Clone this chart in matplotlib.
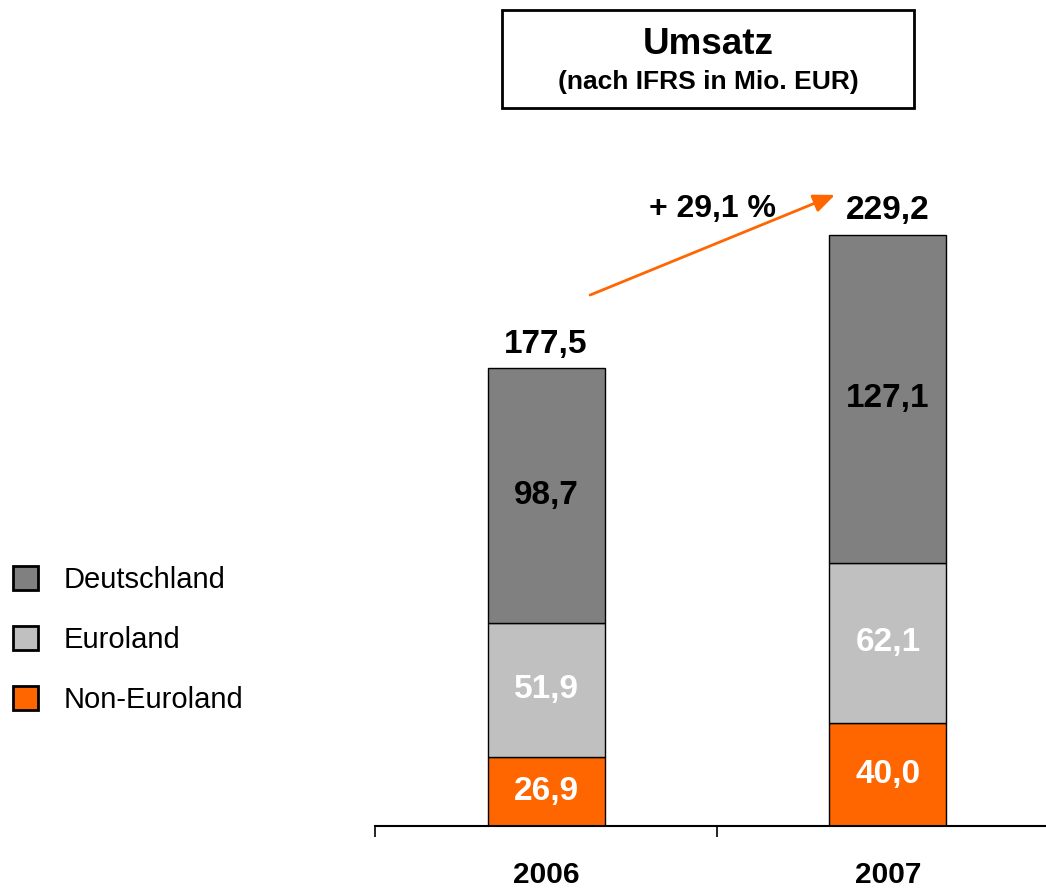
import matplotlib
matplotlib.use("Agg")
import matplotlib.pyplot as plt
from matplotlib.patches import Patch, Rectangle
import numpy as np

plt.rcParams['font.family'] = ['Liberation Sans', 'DejaVu Sans']

years = ["2006", "2007"]
series_names = ["Non-Euroland", "Euroland", "Deutschland"]
non_euroland = [26.9, 40.0]
euroland = [51.9, 62.1]
deutschland = [98.7, 127.1]
totals = [177.5, 229.2]
growth_label = "+ 29,1 %"
title = "Umsatz"
subtitle = "(nach IFRS in Mio. EUR)"

colors = {"Deutschland": "#808080", "Euroland": "#C0C0C0", "Non-Euroland": "#FF6600"}
label_colors = {"Deutschland": "black", "Euroland": "white", "Non-Euroland": "white"}

def fmt(v):
    return f"{v:.1f}".replace(".", ",")

W, H = 1046, 888
fig = plt.figure(figsize=(W / 100, H / 100), dpi=100)
ax = fig.add_axes([375 / W, 62 / H, 684 / W, 774 / H])
ax.set_xlim(-0.5, 1.5)
ax.set_ylim(0, 300)

x = np.arange(len(years))
bw = 117 / 342
bottom = np.zeros(len(years))
data = {"Non-Euroland": non_euroland, "Euroland": euroland, "Deutschland": deutschland}
for name in series_names:
    vals = np.array(data[name])
    ax.bar(x, vals, bw, bottom=bottom, color=colors[name],
           edgecolor="black", linewidth=1.0, zorder=2)
    for xi, b, v in zip(x, bottom, vals):
        ax.text(xi, b + v / 2, fmt(v), ha="center", va="center",
                fontsize=24, fontweight="bold", color=label_colors[name], zorder=3)
    bottom = bottom + vals

for xi, t in zip(x, totals):
    ax.annotate(fmt(t), (xi, t), xytext=(0, 11), textcoords="offset points",
                ha="center", va="baseline", fontsize=24, fontweight="bold")

for s in ["top", "right", "left"]:
    ax.spines[s].set_visible(False)
ax.spines["bottom"].set_linewidth(1.5)
ax.set_yticks([])
ax.set_xticks([-0.5, 0.5, 1.5])
ax.set_xticklabels([])
ax.tick_params(axis="x", which="major", direction="out", length=8, width=1.2)
ax.set_xticks(x, minor=True)
ax.set_xticklabels(years, minor=True, fontsize=21.5, fontweight="bold")
ax.tick_params(axis="x", which="minor", length=0, pad=25)

# growth arrow
ax.annotate("", xy=(0.845, 244.6), xytext=(0.129, 205.8),
            arrowprops=dict(arrowstyle="-|>,head_length=1.3,head_width=0.55",
                            color="#FF6600", lw=2.0, shrinkA=0, shrinkB=0))
ax.text(0.488, 239, growth_label, ha="center", va="center",
        fontsize=23, fontweight="bold")

# title box
fig.patches.append(Rectangle((502 / W, 1 - 108 / H), 412 / W, 98 / H,
                             transform=fig.transFigure, fill=False,
                             edgecolor="black", linewidth=2))
fig.text(708 / W, 1 - 45 / H, title, ha="center", va="center",
         fontsize=26.5, fontweight="bold")
fig.text(708 / W, 1 - 82 / H, subtitle, ha="center", va="center",
         fontsize=19, fontweight="bold")

handles = [Patch(facecolor=colors[n], edgecolor="black", linewidth=2, label=n)
           for n in ["Deutschland", "Euroland", "Non-Euroland"]]
fig.legend(handles=handles, loc="center left", bbox_to_anchor=(13 / W, 1 - 640 / H),
           frameon=False, fontsize=21, handlelength=0.86, handleheight=0.86,
           handletextpad=0.86, labelspacing=1.1, borderpad=0, borderaxespad=0)

fig.savefig("out.png", dpi=100)
